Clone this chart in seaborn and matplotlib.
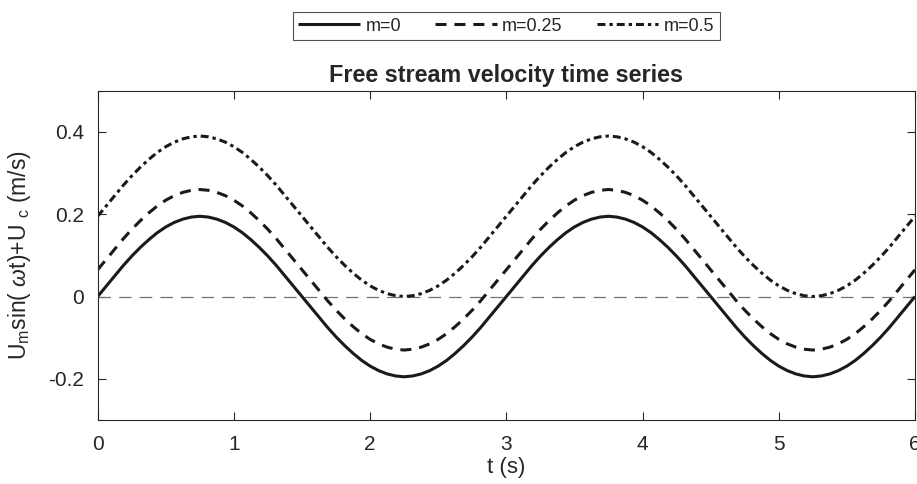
import matplotlib
matplotlib.use("Agg")
import matplotlib.pyplot as plt
import seaborn as sns
import pandas as pd

# ---------------- data ----------------
# sample times every 0.0625 s from 0 to 6 s
t = [i * 0.0625 for i in range(97)]

u_m0 = [0.000, 0.025, 0.050, 0.075, 0.098, 0.119, 0.138, 0.155, 0.169, 0.180, 0.188, 0.193,
        0.195, 0.193, 0.188, 0.180, 0.169, 0.155, 0.138, 0.119, 0.098, 0.075, 0.050, 0.025,
        0.000, -0.025, -0.050, -0.075, -0.098, -0.119, -0.138, -0.155, -0.169, -0.180, -0.188, -0.193,
        -0.195, -0.193, -0.188, -0.180, -0.169, -0.155, -0.138, -0.119, -0.098, -0.075, -0.050, -0.025,
        0.000, 0.025, 0.050, 0.075, 0.098, 0.119, 0.138, 0.155, 0.169, 0.180, 0.188, 0.193,
        0.195, 0.193, 0.188, 0.180, 0.169, 0.155, 0.138, 0.119, 0.098, 0.075, 0.050, 0.025,
        0.000, -0.025, -0.050, -0.075, -0.098, -0.119, -0.138, -0.155, -0.169, -0.180, -0.188, -0.193,
        -0.195, -0.193, -0.188, -0.180, -0.169, -0.155, -0.138, -0.119, -0.098, -0.075, -0.050, -0.025,
        0.000]

u_m025 = [0.065, 0.090, 0.115, 0.140, 0.163, 0.184, 0.203, 0.220, 0.234, 0.245, 0.253, 0.258,
          0.260, 0.258, 0.253, 0.245, 0.234, 0.220, 0.203, 0.184, 0.163, 0.140, 0.115, 0.090,
          0.065, 0.040, 0.015, -0.010, -0.033, -0.054, -0.073, -0.090, -0.104, -0.115, -0.123, -0.128,
          -0.130, -0.128, -0.123, -0.115, -0.104, -0.090, -0.073, -0.054, -0.033, -0.010, 0.015, 0.040,
          0.065, 0.090, 0.115, 0.140, 0.163, 0.184, 0.203, 0.220, 0.234, 0.245, 0.253, 0.258,
          0.260, 0.258, 0.253, 0.245, 0.234, 0.220, 0.203, 0.184, 0.163, 0.140, 0.115, 0.090,
          0.065, 0.040, 0.015, -0.010, -0.033, -0.054, -0.073, -0.090, -0.104, -0.115, -0.123, -0.128,
          -0.130, -0.128, -0.123, -0.115, -0.104, -0.090, -0.073, -0.054, -0.033, -0.010, 0.015, 0.040,
          0.065]

u_m05 = [0.195, 0.220, 0.245, 0.270, 0.293, 0.314, 0.333, 0.350, 0.364, 0.375, 0.383, 0.388,
         0.390, 0.388, 0.383, 0.375, 0.364, 0.350, 0.333, 0.314, 0.293, 0.270, 0.245, 0.220,
         0.195, 0.170, 0.145, 0.120, 0.097, 0.076, 0.057, 0.040, 0.026, 0.015, 0.007, 0.002,
         0.000, 0.002, 0.007, 0.015, 0.026, 0.040, 0.057, 0.076, 0.097, 0.120, 0.145, 0.170,
         0.195, 0.220, 0.245, 0.270, 0.293, 0.314, 0.333, 0.350, 0.364, 0.375, 0.383, 0.388,
         0.390, 0.388, 0.383, 0.375, 0.364, 0.350, 0.333, 0.314, 0.293, 0.270, 0.245, 0.220,
         0.195, 0.170, 0.145, 0.120, 0.097, 0.076, 0.057, 0.040, 0.026, 0.015, 0.007, 0.002,
         0.000, 0.002, 0.007, 0.015, 0.026, 0.040, 0.057, 0.076, 0.097, 0.120, 0.145, 0.170,
         0.195]

series_labels = ["m=0", "m=0.25", "m=0.5"]
x_ticks = [0, 1, 2, 3, 4, 5, 6]
y_ticks = [-0.2, 0, 0.2, 0.4]
y_tick_labels = ["-0.2", "0", "0.2", "0.4"]

title = "Free stream velocity time series"
xlabel = "t (s)"
ylabel = r"U$_{\mathrm{m}}$sin( $\omega$t)+U $_{\mathrm{c}}$ (m/s)"

# ---------------- style ----------------
sns.set_theme(style="white")
plt.rcParams["font.family"] = ["Liberation Sans", "DejaVu Sans"]
plt.rcParams["mathtext.fontset"] = "custom"
plt.rcParams["mathtext.rm"] = "Liberation Sans"
plt.rcParams["mathtext.it"] = "Liberation Sans:italic"

axc = (0.15, 0.15, 0.15)

fig = plt.figure(figsize=(9.17, 4.84), dpi=100)
ax = fig.add_axes([0.1065, 0.1322, 0.8913, 0.6804])

df = pd.DataFrame({"t": t, "m0": u_m0, "m025": u_m025, "m05": u_m05})

lw = 2.2
ax.axhline(0, color=(0.45, 0.45, 0.45), lw=0.9, linestyle=(0, (10, 6.5)), zorder=1)
sns.lineplot(data=df, x="t", y="m0", ax=ax, color="k", lw=lw, label=series_labels[0],
             linestyle="-", errorbar=None, sort=False)
sns.lineplot(data=df, x="t", y="m025", ax=ax, color="k", lw=lw, label=series_labels[1],
             linestyle=(0, (3.6, 2.6)), errorbar=None, sort=False)
sns.lineplot(data=df, x="t", y="m05", ax=ax, color="k", lw=lw, label=series_labels[2],
             linestyle=(0, (2.6, 1.3, 1.1, 1.3)), errorbar=None, sort=False)
for ln in ax.get_lines():
    ln.set_dash_capstyle("butt")
    ln.set_solid_capstyle("butt")
    ln.set_solid_joinstyle("round")
    ln.set_dash_joinstyle("round")

ax.set_xlim(0, 6)
ax.set_ylim(-0.3, 0.5)
ax.set_xticks(x_ticks)
ax.set_xticklabels([str(v) for v in x_ticks])
ax.set_yticks(y_ticks)
ax.set_yticklabels(y_tick_labels)

ax.tick_params(axis="both", which="both", direction="in", length=6, width=0.8,
               colors=axc, labelsize=15, top=True, right=True, bottom=True, left=True,
               labelcolor=axc)
ax.tick_params(axis="x", pad=11)
ax.tick_params(axis="y", pad=10)
for s in ax.spines.values():
    s.set_visible(True)
    s.set_color(axc)
    s.set_linewidth(0.8)

ax.set_title(title, fontsize=16.8, fontweight="bold", pad=6)
ax.set_xlabel(xlabel, fontsize=16, color=axc, labelpad=2)
ax.set_ylabel(ylabel, fontsize=16.5, color=axc, va="center")
ax.yaxis.set_label_coords(-0.096, 0.5)

leg = ax.legend(loc="center", bbox_to_anchor=(0.5, 1.196), ncol=3, fontsize=13,
                frameon=True, fancybox=False, edgecolor=axc, handlelength=3.4,
                handletextpad=0.3, columnspacing=1.9, borderpad=0.3,
                borderaxespad=0)
leg.get_frame().set_linewidth(0.8)

fig.savefig("out.png", dpi=100)
